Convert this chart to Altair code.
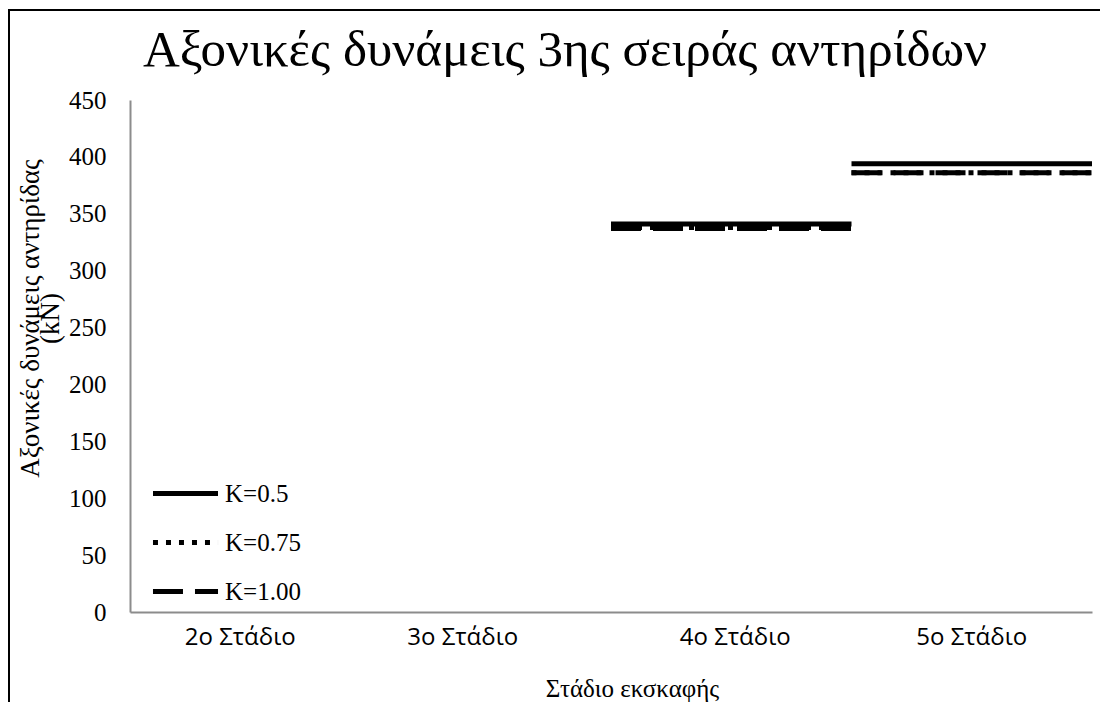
import altair as alt
import pandas as pd

stages = ["2ο Στάδιο", "3ο Στάδιο", "4ο Στάδιο", "5ο Στάδιο"]
series = ["K=0.5", "K=0.75", "K=1.00"]
k050 = [None, None, 341, 394]
k075 = [None, None, 338, 386]
k100 = [None, None, 337, 386]
y_ticks = [0, 50, 100, 150, 200, 250, 300, 350, 400, 450]
chart_title = "Αξονικές δυνάμεις 3ης σειράς αντηρίδων"

rows = []
for name, vals in zip(series, [k050, k075, k100]):
    for s, v in zip(stages, vals):
        if v is not None:
            rows.append({"stage": s, "K": name, "value": v})
df = pd.DataFrame(rows)

SERIF = "Liberation Serif"

label_shift = {
    "condition": [
        {"test": "datum.value == '2ο Στάδιο'", "value": -10},
        {"test": "datum.value == '3ο Στάδιο'", "value": -28},
        {"test": "datum.value == '4ο Στάδιο'", "value": 4},
    ],
    "value": 0,
}

lines = alt.Chart(df).mark_rule(color="black", strokeWidth=5).encode(
    x=alt.X("stage:N", sort=stages, bandPosition=0,
            scale=alt.Scale(domain=stages, paddingInner=0, paddingOuter=0),
            axis=alt.Axis(title="Στάδιο εκσκαφής", labelAngle=0, ticks=False, grid=False,
                          domainColor="#8c8c8c", domainWidth=2,
                          labelFont="Open Sans", labelFontSize=24, labelColor="black",
                          labelPadding=13, labelOffset=label_shift,
                          titleFont=SERIF, titleFontSize=25, titleFontWeight="normal",
                          titleColor="black", titlePadding=27, titleX=502)),
    x2=alt.X2("stage", bandPosition=1),
    y=alt.Y("value:Q", scale=alt.Scale(domain=[0, 450], nice=False),
            axis=alt.Axis(values=y_ticks, ticks=False, grid=False,
                          domainColor="#8c8c8c", domainWidth=2,
                          labelFont=SERIF, labelFontSize=25, labelColor="black",
                          labelPadding=24,
                          title=["Αξονικές δυνάμεις αντηρίδας", "(kN)"],
                          titleFont=SERIF, titleFontSize=27, titleFontWeight="normal",
                          titleColor="black", titleLineHeight=20,
                          titleX=-100, titleY=218, titleAlign="center",
                          titleBaseline="middle", titleAngle=270)),
    strokeDash=alt.StrokeDash("K:N",
        scale=alt.Scale(domain=series, range=[[1, 0], [5, 8], [30, 12]]),
        legend=alt.Legend(orient="none", legendX=42, legendY=380, title=None,
                          symbolType="M-3,0H3", symbolSize=470, symbolStrokeWidth=5,
                          symbolStrokeColor="black", labelFont=SERIF, labelFontSize=25,
                          labelColor="black", labelOffset=26, rowPadding=22, padding=0)),
    order=alt.Order("K:N"),
)

one = pd.DataFrame({"t": [chart_title]})

frame = alt.Chart(one).mark_rect(
    fillOpacity=0, stroke="black", strokeWidth=2
).encode(
    x=alt.value(-121), x2=alt.value(1100), y=alt.value(-90), y2=alt.value(700)
)

title = alt.Chart(one).mark_text(
    font=SERIF, fontSize=51, color="black", align="center", baseline="alphabetic"
).encode(text="t:N", x=alt.value(435), y=alt.value(-34))

chart = alt.layer(frame, lines, title).properties(
    width=962, height=512,
    autosize=alt.AutoSizeParams(type="none"),
    padding={"left": 122, "top": 92, "right": 8, "bottom": 90},
).configure_view(stroke=None)

chart.save("out.html", embed_options={"renderer": "svg", "actions": False})
